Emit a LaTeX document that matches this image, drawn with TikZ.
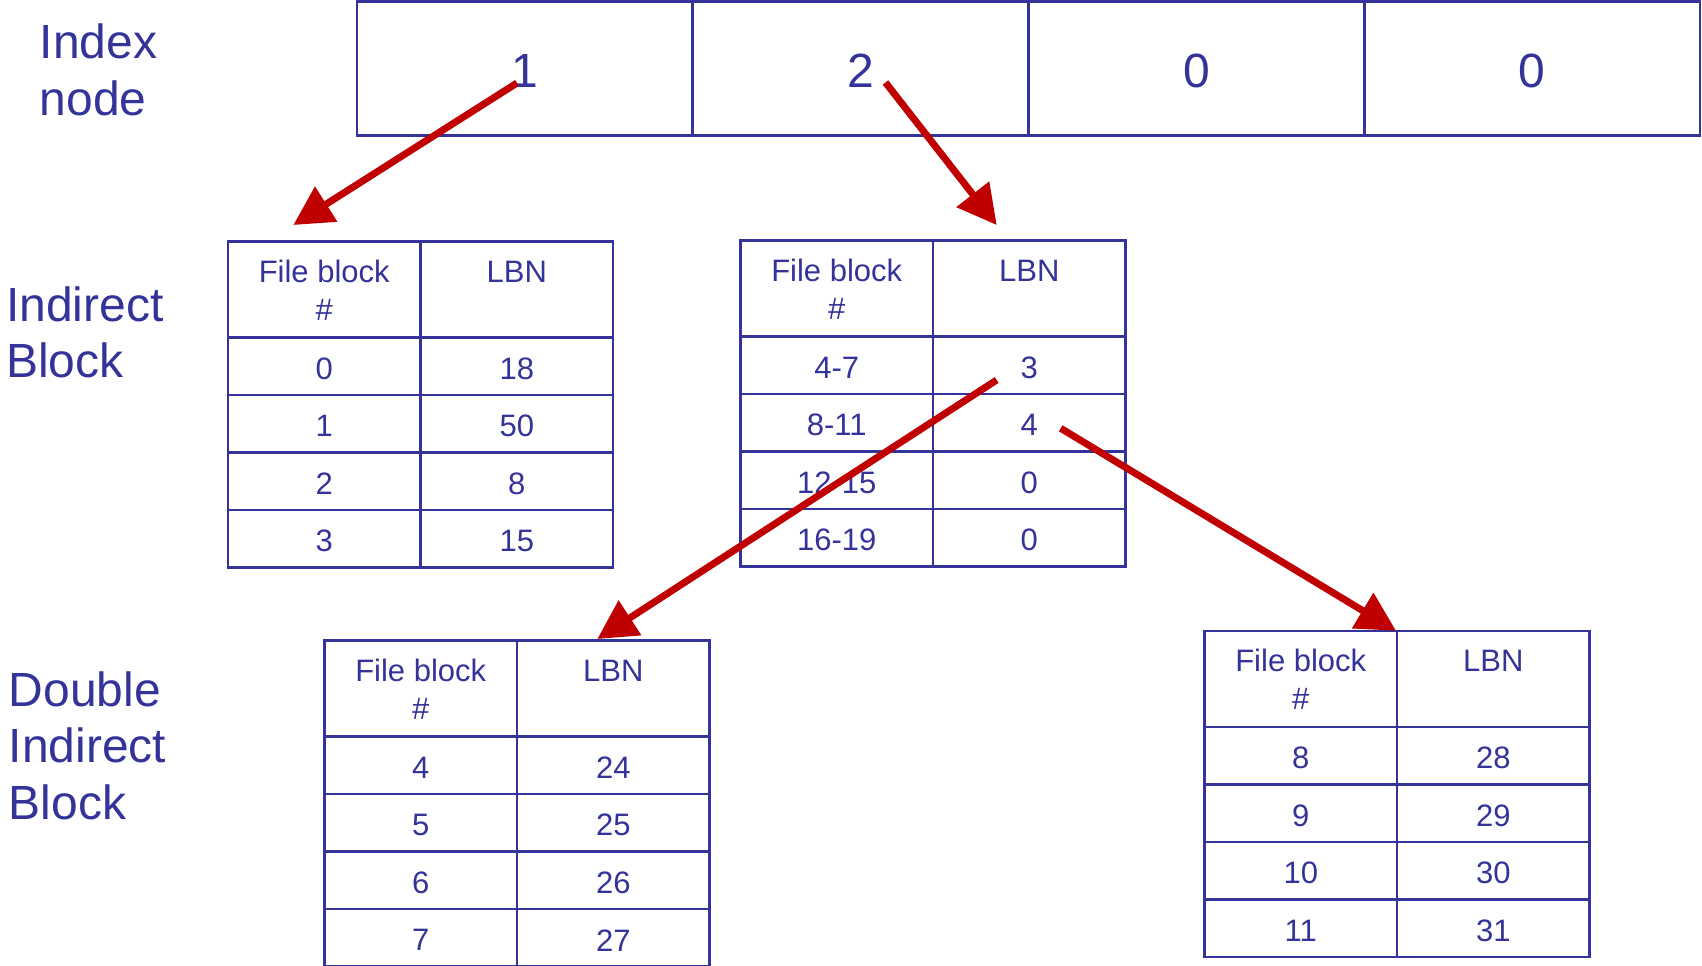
\documentclass[tikz,border=0pt]{standalone}
\usepackage{fontspec}
\setmainfont{Liberation Sans}
\usetikzlibrary{arrows.meta}
\definecolor{blu}{RGB}{51,51,153}
\definecolor{rd}{RGB}{192,0,0}
\tikzset{
  grid/.style={draw=blu, line width=2.6pt, inner sep=0pt, outer sep=0pt, text=blu},
  idxcell/.style={grid, minimum width=335.75pt, minimum height=134pt, anchor=north west,
    font=\fontsize{48pt}{57pt}\selectfont},
  cell/.style={grid, minimum width=192.5pt, minimum height=57.5pt,
    font=\fontsize{31pt}{38.3pt}\selectfont},
  hcell/.style={grid, minimum width=192.5pt, minimum height=96pt, anchor=north west,
    font=\fontsize{31pt}{38.3pt}\selectfont},
  biglabel/.style={text=blu, inner sep=0pt, align=left, anchor=base west,
    font=\fontsize{48pt}{56.5pt}\selectfont},
  ptr/.style={draw=rd, line width=7pt, -{Triangle[length=39pt,width=40pt]}}
}
\newcommand\hd[1]{\parbox[c][96pt][t]{192.5pt}{\centering\rule{0pt}{40.5pt}#1}}
\newcommand\lowtext[2]{\raisebox{-#1}[\height][\depth]{#2}}
\newcommand\fbtable[4]{%
  \node[hcell] (#1h1) at (#2,#3) {\hd{File block\\\#}};
  \node[hcell] (#1h2) at (#2+192.5,#3) {\hd{LBN}};
  \foreach \a/\b [count=\i] in {#4} {
    \node[cell] (#1-\i-1) at (#2+96.25,#3+67.25+57.5*\i) {\lowtext{2.5pt}{\a}};
    \node[cell] (#1-\i-2) at (#2+288.75,#3+67.25+57.5*\i) {\lowtext{2.5pt}{\b}};
  }%
}
\begin{document}
\begin{tikzpicture}[x=1pt,y=-1pt]
\useasboundingbox (0,0) rectangle (1702,966);
% labels (anchored at the baseline of their last line)
\node[biglabel] (lidx) at (39.5,115) {Index\\node};
\node[biglabel] (lind) at (6,377.5) {Indirect\\Block};
\node[biglabel] (ldbl) at (8.5,819) {Double\\Indirect\\Block};
% index node
\node[idxcell] (idx1) at (357,1.5) {\lowtext{2.5pt}{1}};
\node[idxcell] (idx2) at (692.75,1.5) {\lowtext{2.5pt}{2}};
\node[idxcell] (idx3) at (1028.5,1.5) {\lowtext{2.5pt}{0}};
\node[idxcell] (idx4) at (1364.25,1.5) {\lowtext{2.5pt}{0}};
% tables
\fbtable{ta}{228}{241.5}{0/18,1/50,2/8,3/15}
\fbtable{tb}{740.5}{240.5}{4-7/3,8-11/4,12-15/0,16-19/0}
\fbtable{tc}{324.5}{640.5}{4/24,5/25,6/26,7/27}
\fbtable{td}{1204.5}{631}{8/28,9/29,10/30,11/31}
% pointers
\coordinate (a1s) at (517,83);
\coordinate (a1e) at (293.3,225);
\coordinate (a2s) at (885.5,82.5);
\coordinate (a2e) at (996.7,225);
\coordinate (a3s) at (996.7,380);
\coordinate (a3e) at (597.3,639);
\coordinate (a4s) at (1060.7,428.3);
\coordinate (a4e) at (1396,630.7);
\draw[ptr] (a1s) -- (a1e);
\draw[ptr] (a2s) -- (a2e);
\draw[ptr] (a3s) -- (a3e);
\draw[ptr] (a4s) -- (a4e);
\end{tikzpicture}
\end{document}
